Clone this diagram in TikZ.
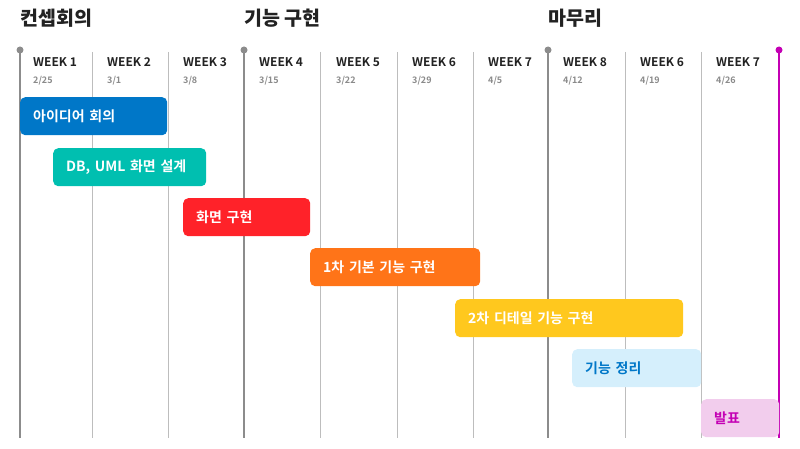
\documentclass[tikz,border=0pt]{standalone}
\usepackage{fontspec}
\setmainfont{Noto Sans CJK KR}[BoldFont={Noto Sans CJK KR Bold}]
\newfontfamily\krblack{Noto Sans CJK KR Black}
\usetikzlibrary{positioning}

\definecolor{ideablue}{HTML}{0077C8}
\definecolor{designteal}{HTML}{00BFB0}
\definecolor{screenred}{HTML}{FF2229}
\definecolor{firstorange}{HTML}{FF7418}
\definecolor{detailyellow}{HTML}{FFC81E}
\definecolor{tidysky}{HTML}{D5EFFC}
\definecolor{talkpink}{HTML}{F2CDED}
\definecolor{talkmagenta}{HTML}{C400B4}
\definecolor{gridgray}{HTML}{BDBDBD}
\definecolor{milegray}{HTML}{8C8C8C}
\definecolor{inkdark}{HTML}{222222}
\definecolor{dategray}{HTML}{8A8A8A}

\begin{document}
\begin{tikzpicture}[
  x=1pt, y=-1pt,
  grid/.style={draw=gridgray, line width=1pt},
  mile/.style={draw=milegray, line width=1.3pt},
  phase/.style={anchor=west, inner sep=0pt, font=\krblack\fontsize{19.5}{22}\selectfont, text=inkdark},
  week/.style={anchor=west, inner sep=0pt, font=\bfseries\fontsize{12}{14}\selectfont, text=inkdark},
  date/.style={anchor=west, inner sep=0pt, font=\bfseries\fontsize{9}{11}\selectfont, text=dategray},
  bar/.style={anchor=north west, rounded corners=5pt, minimum height=38pt, inner xsep=13pt, inner ysep=0pt, align=left, font=\bfseries\fontsize{14}{16}\selectfont, text=white}
]
  \useasboundingbox (0,0) rectangle (800,449);

  % phase titles
  \node[phase] (concept) at (20,18) {컨셉회의};
  \node[phase] (build) at (244,18) {기능 구현};
  \node[phase] (wrapup) at (548,18) {마무리};

  % week columns
  \foreach \x in {92,168,320,397,473,625,701}
    \draw[grid] (\x,52) -- (\x,438);
  \foreach \x in {20,244,548} {
    \draw[mile] (\x,50) -- (\x,438);
    \fill[milegray] (\x,50) circle (3.5pt);
  }
  \draw[draw=talkmagenta, line width=1.3pt] (779,50) -- (779,438);
  \fill[talkmagenta] (779,50) circle (3.5pt);

  \foreach \x/\w/\m/\d [count=\i] in {33/1/2/25, 107/2/3/1, 183/3/3/8, 259/4/3/15, 336/5/3/22,
      412/6/3/29, 488/7/4/5, 563/8/4/12, 640/6/4/19, 716/7/4/26} {
    \node[week] (wk\i) at (\x,62) {WEEK \w};
    \node[date] (dt\i) at (\x,81) {\m/\d};
  }

  % task bars
  \node[bar, fill=ideablue, text width=121pt] (idea) at (20,97) {아이디어 회의};
  \node[bar, fill=designteal, text width=127pt] (design) at (53,148) {DB, UML 화면 설계};
  \node[bar, fill=screenred, text width=101pt] (screen) at (183,198) {화면 구현};
  \node[bar, fill=firstorange, text width=144pt] (basic) at (310,248) {1차 기본 기능 구현};
  \node[bar, fill=detailyellow, text width=202pt] (detail) at (455,299) {2차 디테일 기능 구현};
  \node[bar, fill=tidysky, text=ideablue, text width=103pt] (tidy) at (572,349) {기능 정리};
  \node[bar, fill=talkpink, text=talkmagenta, text width=52pt] (talk) at (701,399) {발표};
\end{tikzpicture}
\end{document}
